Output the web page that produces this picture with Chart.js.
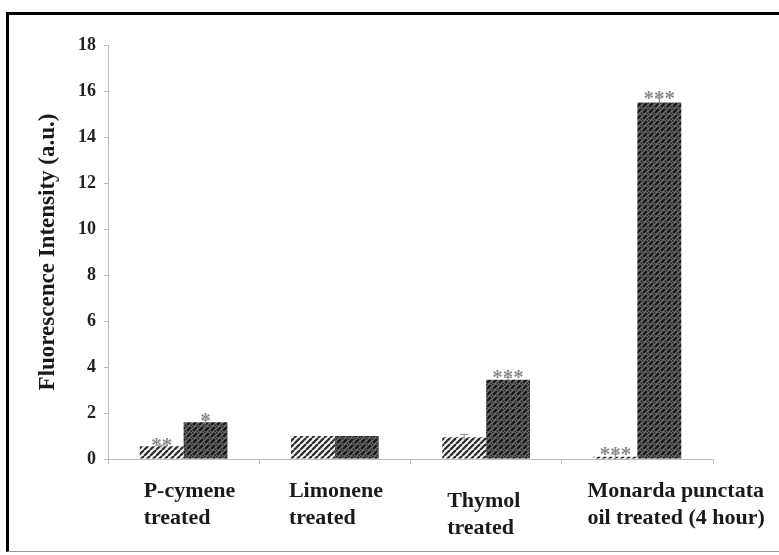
<!DOCTYPE html>
<html>
<head>
<meta charset="utf-8">
<script src="https://cdn.jsdelivr.net/npm/chart.js@4.4.0/dist/chart.umd.min.js"></script>
<style>
  html, body { margin: 0; padding: 0; background: #fff; }
  #wrap { position: relative; width: 779px; height: 555px; }
  #frame {
    position: absolute; left: 6px; top: 12px; width: 773px; height: 540px;
    border-left: 3px solid #000; border-top: 3px solid #000; border-bottom: 1px solid #999;
    box-sizing: border-box; pointer-events: none;
  }
</style>
</head>
<body>
<div id="wrap">
  <canvas id="chart" width="779" height="555"></canvas>
  <div id="frame"></div>
</div>
<script>
const categories = [
  ['P-cymene', 'treated'],
  ['Limonene', 'treated'],
  ['Thymol', 'treated'],
  ['Monarda punctata', 'oil treated (4 hour)']
];
const seriesA = [0.55, 1.0, 0.95, 0.1];
const seriesB = [1.6, 1.0, 3.45, 15.5];
const errA = [0.05, 0, 0.12, 0.12];
const errB = [0.1, 0, 0.1, 0.2];
const starsA = ['**', '', '', '***'];
const starsB = ['*', '', '***', '***'];
const yTicks = [0, 2, 4, 6, 8, 10, 12, 14, 16, 18];

// label placement relative to category centre
const labelShift = [-40, -46, -39, -50];
const labelDrop = [0, 0, 10, 0];

const serif = '"Liberation Serif", "Times New Roman", serif';

function hatchPattern() {
  const c = document.createElement('canvas');
  c.width = 6; c.height = 6;
  const g = c.getContext('2d');
  g.fillStyle = '#f2f2f2';
  g.fillRect(0, 0, 6, 6);
  g.strokeStyle = '#2a2a2a';
  g.lineWidth = 2.2;
  for (let k = -6; k <= 12; k += 6) {
    g.beginPath();
    g.moveTo(k, 6);
    g.lineTo(k + 6, 0);
    g.stroke();
  }
  return g.createPattern(c, 'repeat');
}

function densePattern() {
  const c = document.createElement('canvas');
  c.width = 6; c.height = 6;
  const g = c.getContext('2d');
  g.fillStyle = '#6e6e6e';
  g.fillRect(0, 0, 6, 6);
  g.strokeStyle = '#151515';
  g.lineWidth = 2.4;
  g.beginPath();
  g.moveTo(1, 5); g.lineTo(5, 1);
  g.stroke();
  g.fillStyle = '#222';
  g.fillRect(0, 0, 1.5, 1.5);
  g.fillRect(4.5, 4.5, 1.5, 1.5);
  return g.createPattern(c, 'repeat');
}

const extras = {
  id: 'extras',
  afterDatasetsDraw(ch) {
    const ctx = ch.ctx;
    const y = ch.scales.y;
    const errs = [errA, errB];
    const stars = [starsA, starsB];
    ctx.save();
    [0, 1].forEach(di => {
      const meta = ch.getDatasetMeta(di);
      meta.data.forEach((bar, i) => {
        const v = ch.data.datasets[di].data[i];
        const e = errs[di][i];
        const top = y.getPixelForValue(v + e);
        if (e > 0) {
          const bot = y.getPixelForValue(v - e);
          ctx.strokeStyle = '#888';
          ctx.lineWidth = 1;
          ctx.beginPath();
          ctx.moveTo(bar.x, top); ctx.lineTo(bar.x, bot);
          ctx.moveTo(bar.x - 4, top); ctx.lineTo(bar.x + 4, top);
          ctx.stroke();
        }
        const s = stars[di][i];
        if (s) {
          ctx.fillStyle = '#8a8a8a';
          ctx.font = 'bold 21px ' + serif;
          ctx.textAlign = 'center';
          ctx.textBaseline = 'alphabetic';
          ctx.fillText(s, bar.x, top + 7);
        }
      });
    });
    // category labels
    const x = ch.scales.x;
    ctx.fillStyle = '#1a1a1a';
    ctx.font = 'bold 22px ' + serif;
    ctx.textAlign = 'left';
    ctx.textBaseline = 'alphabetic';
    categories.forEach((lines, i) => {
      const cx = x.getPixelForValue(i) + labelShift[i];
      lines.forEach((t, j) => {
        ctx.fillText(t, cx, 497 + labelDrop[i] + j * 27);
      });
    });
    ctx.restore();
  }
};

new Chart(document.getElementById('chart'), {
  type: 'bar',
  data: {
    labels: categories.map(c => c.join(' ')),
    datasets: [
      { data: seriesA, backgroundColor: hatchPattern(), borderWidth: 0 },
      { data: seriesB, backgroundColor: densePattern(), borderWidth: 0 }
    ]
  },
  options: {
    responsive: false,
    animation: false,
    layout: { padding: { left: 0, right: 66, top: 45, bottom: 0 } },
    plugins: { legend: { display: false }, tooltip: { enabled: false } },
    datasets: { bar: { categoryPercentage: 0.58, barPercentage: 1.0 } },
    scales: {
      x: {
        offset: true,
        grid: { offset: true, drawOnChartArea: false, color: '#bbb', tickLength: 5 },
        border: { color: '#bbb' },
        ticks: { display: false },
        afterFit(s) { s.height = 96; }
      },
      y: {
        min: 0, max: 18,
        afterBuildTicks(s) { s.ticks = yTicks.map(v => ({ value: v })); },
        grid: { drawOnChartArea: false, color: '#bbb', tickLength: 4 },
        border: { color: '#bbb' },
        ticks: { color: '#222', padding: 8, font: { family: serif, size: 18, weight: 'bold' } },
        title: {
          display: true,
          text: 'Fluorescence Intensity (a.u.)',
          color: '#1a1a1a',
          font: { family: serif, size: 23, weight: 'bold' },
          padding: { top: 34, bottom: 0 }
        },
        afterFit(s) { s.width = 108; }
      }
    }
  },
  plugins: [extras]
});
</script>
</body>
</html>
